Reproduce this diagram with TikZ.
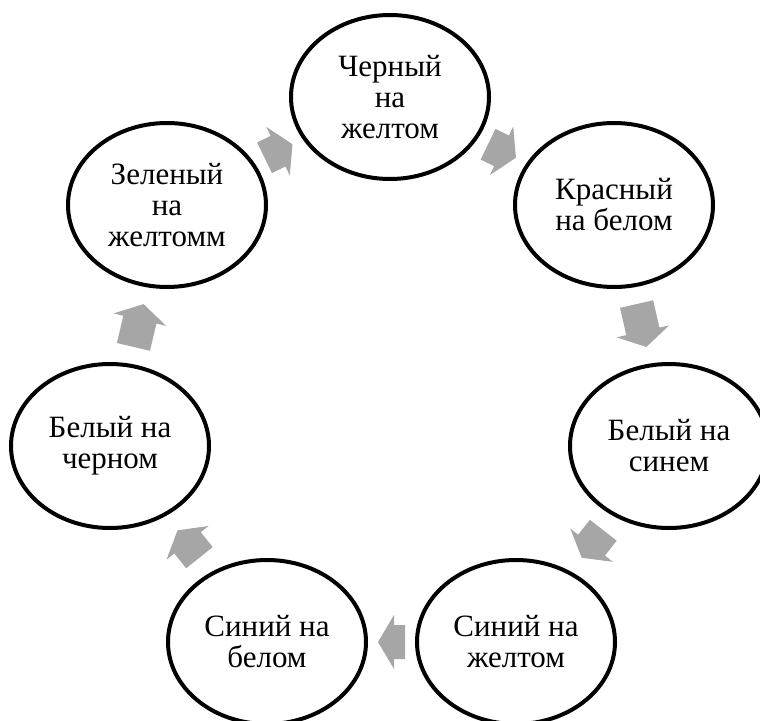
\documentclass[tikz,border=0pt]{standalone}
\usepackage{fontspec}
\setmainfont{Liberation Serif}
\newfontfamily\cycserif{Liberation Serif}
\usetikzlibrary{shapes.geometric,calc}
\definecolor{arrowgray}{RGB}{166,166,166}
\tikzset{
  cyclenode/.style={ellipse, draw=black, fill=white, line width=4pt,
    minimum width=198pt, minimum height=164pt, inner sep=0pt,
    align=center, font=\cycserif\fontsize{31}{31}\selectfont},
  cyclefill/.style={fill=arrowgray, draw=none}
}
% block arrow between two named nodes: #1 from, #2 to, #3 length
\newcommand\cyclearrow[3]{%
  \pgfmathanglebetweenpoints{\pgfpointanchor{#1}{center}}{\pgfpointanchor{#2}{center}}%
  \let\cycang\pgfmathresult
  \begin{scope}[shift={($(#1)!0.5!(#2)$)}, rotate=\cycang]
    \path[cyclefill] ({#3/2},0) -- ({#3/2-16},27) -- ({#3/2-16},17) -- ({-#3/2},17)
      -- ({-#3/2},-17) -- ({#3/2-16},-17) -- ({#3/2-16},-27) -- cycle;
  \end{scope}}
\begin{document}
\begin{tikzpicture}[x=1pt,y=1pt]
\useasboundingbox (0,0) rectangle (760,-720);
\node[cyclenode] (n1) at (390,-97)  {Черный\\на\\желтом};
\node[cyclenode] (n2) at (614,-205) {Красный\\на белом};
\node[cyclenode] (n3) at (669,-446) {Белый на\\синем};
\node[cyclenode] (n4) at (516,-642) {Синий на\\желтом};
\node[cyclenode] (n5) at (267,-642) {Синий на\\белом};
\node[cyclenode] (n6) at (110,-446) {Белый на\\черном};
\node[cyclenode] (n7) at (167,-205) {Зеленый\\на\\желтомм};
\cyclearrow{n7}{n1}{31}
\cyclearrow{n1}{n2}{31}
\cyclearrow{n2}{n3}{44}
\cyclearrow{n3}{n4}{35}
\cyclearrow{n4}{n5}{27}
\cyclearrow{n5}{n6}{35}
\cyclearrow{n6}{n7}{44}
\end{tikzpicture}
\end{document}
